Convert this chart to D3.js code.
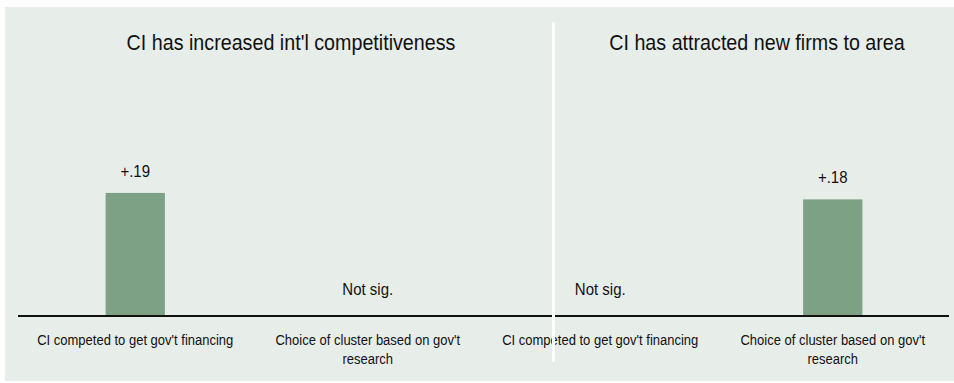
<!DOCTYPE html>
<html>
<head>
<meta charset="utf-8">
<script src="https://cdn.jsdelivr.net/npm/d3@7"></script>
<style>
  body { margin: 0; background: #fff; }
  svg { display: block; font-family: 'Liberation Sans', Arial, sans-serif; }
</style>
</head>
<body>
<svg id="chart" width="954" height="383"></svg>
<script>
// panel titles
const panelTitles = ["CI has increased int'l competitiveness", 'CI has attracted new firms to area']
// categories (repeated per panel)
const categories = ["CI competed to get gov't financing", "Choice of cluster based on gov't research"]
// effect size per panel, null = not significant
const intlValues = [0.19, null]
const firmsValues = [null, 0.18]
const valueLabels = ['+.19', '+.18']

const width = 954
const stretch = 1.12 // the original type is a bit taller than Arial
const svg = d3.select('#chart')

// background
svg.append('rect')
  .attr('x', 5)
  .attr('y', 7)
  .attr('width', width - 5)
  .attr('height', 374)
  .attr('fill', '#e7ede9')

const rows = []
;[intlValues, firmsValues].forEach((vals, p) => {
  vals.forEach((v, i) => rows.push({ key: p + '-' + i, panel: p, cat: categories[i], value: v }))
})

const x = d3.scaleBand()
  .domain(rows.map(d => d.key))
  .range([19, 949])
  .paddingInner(0.745)
  .paddingOuter(0.3725)

const y = d3.scaleLinear().domain([0, 0.45]).range([316, 24.5])

const place = (cx, cy) => 'translate(' + cx + ',' + cy + ') scale(1,' + stretch + ')'

// bars
const sig = rows.filter(d => d.value !== null)
svg.selectAll('.bar')
  .data(sig)
  .enter()
  .append('rect')
  .attr('class', 'bar')
  .attr('x', d => x(d.key))
  .attr('y', d => y(d.value))
  .attr('width', x.bandwidth())
  .attr('height', d => y(0) - y(d.value))
  .attr('fill', '#7da185')

svg.selectAll('.val')
  .data(sig)
  .enter()
  .append('text')
  .attr('class', 'val')
  .attr('transform', d => place(x(d.key) + x.bandwidth() / 2, y(d.value) - 16))
  .attr('text-anchor', 'middle')
  .attr('font-size', 15)
  .attr('fill', '#111')
  .text((d, i) => valueLabels[i])

svg.selectAll('.ns')
  .data(rows.filter(d => d.value === null))
  .enter()
  .append('text')
  .attr('class', 'ns')
  .attr('transform', d => place(x(d.key) + x.bandwidth() / 2, y(0) - 21))
  .attr('text-anchor', 'middle')
  .attr('font-size', 15)
  .attr('fill', '#111')
  .text('Not sig.')

// baseline
svg.append('line')
  .attr('x1', 18)
  .attr('x2', 949)
  .attr('y1', y(0))
  .attr('y2', y(0))
  .attr('stroke', '#111')
  .attr('stroke-width', 2.2)

// category labels, wrapped
function wrap(textSel, w) {
  textSel.each(function() {
    const t = d3.select(this)
    const words = t.text().split(' ')
    t.text(null)
    let line = []
    let tspan = t.append('tspan').attr('x', 0).attr('dy', 0)
    words.forEach(word => {
      line.push(word)
      tspan.text(line.join(' '))
      if (tspan.node().getComputedTextLength() > w && line.length > 1) {
        line.pop()
        tspan.text(line.join(' '))
        line = [word]
        tspan = t.append('tspan').attr('x', 0).attr('dy', 19.5 / stretch).text(word)
      }
    })
  })
}

svg.selectAll('.cat')
  .data(rows)
  .enter()
  .append('text')
  .attr('class', 'cat')
  .attr('transform', d => place(x(d.key) + x.bandwidth() / 2, 345))
  .attr('text-anchor', 'middle')
  .attr('font-size', 13)
  .attr('fill', '#111')
  .text(d => d.cat)
  .call(wrap, 200)

// panel titles
const titleX = [291, 757]
svg.selectAll('.title')
  .data(panelTitles)
  .enter()
  .append('text')
  .attr('class', 'title')
  .attr('transform', (d, i) => place(titleX[i], 50))
  .attr('text-anchor', 'middle')
  .attr('font-size', 19.7)
  .attr('fill', '#111')
  .text(d => d)

// panel divider
svg.append('line')
  .attr('x1', 553.5)
  .attr('x2', 553.5)
  .attr('y1', 22.5)
  .attr('y2', 362)
  .attr('stroke', '#fff')
  .attr('stroke-width', 3)
</script>
</body>
</html>
